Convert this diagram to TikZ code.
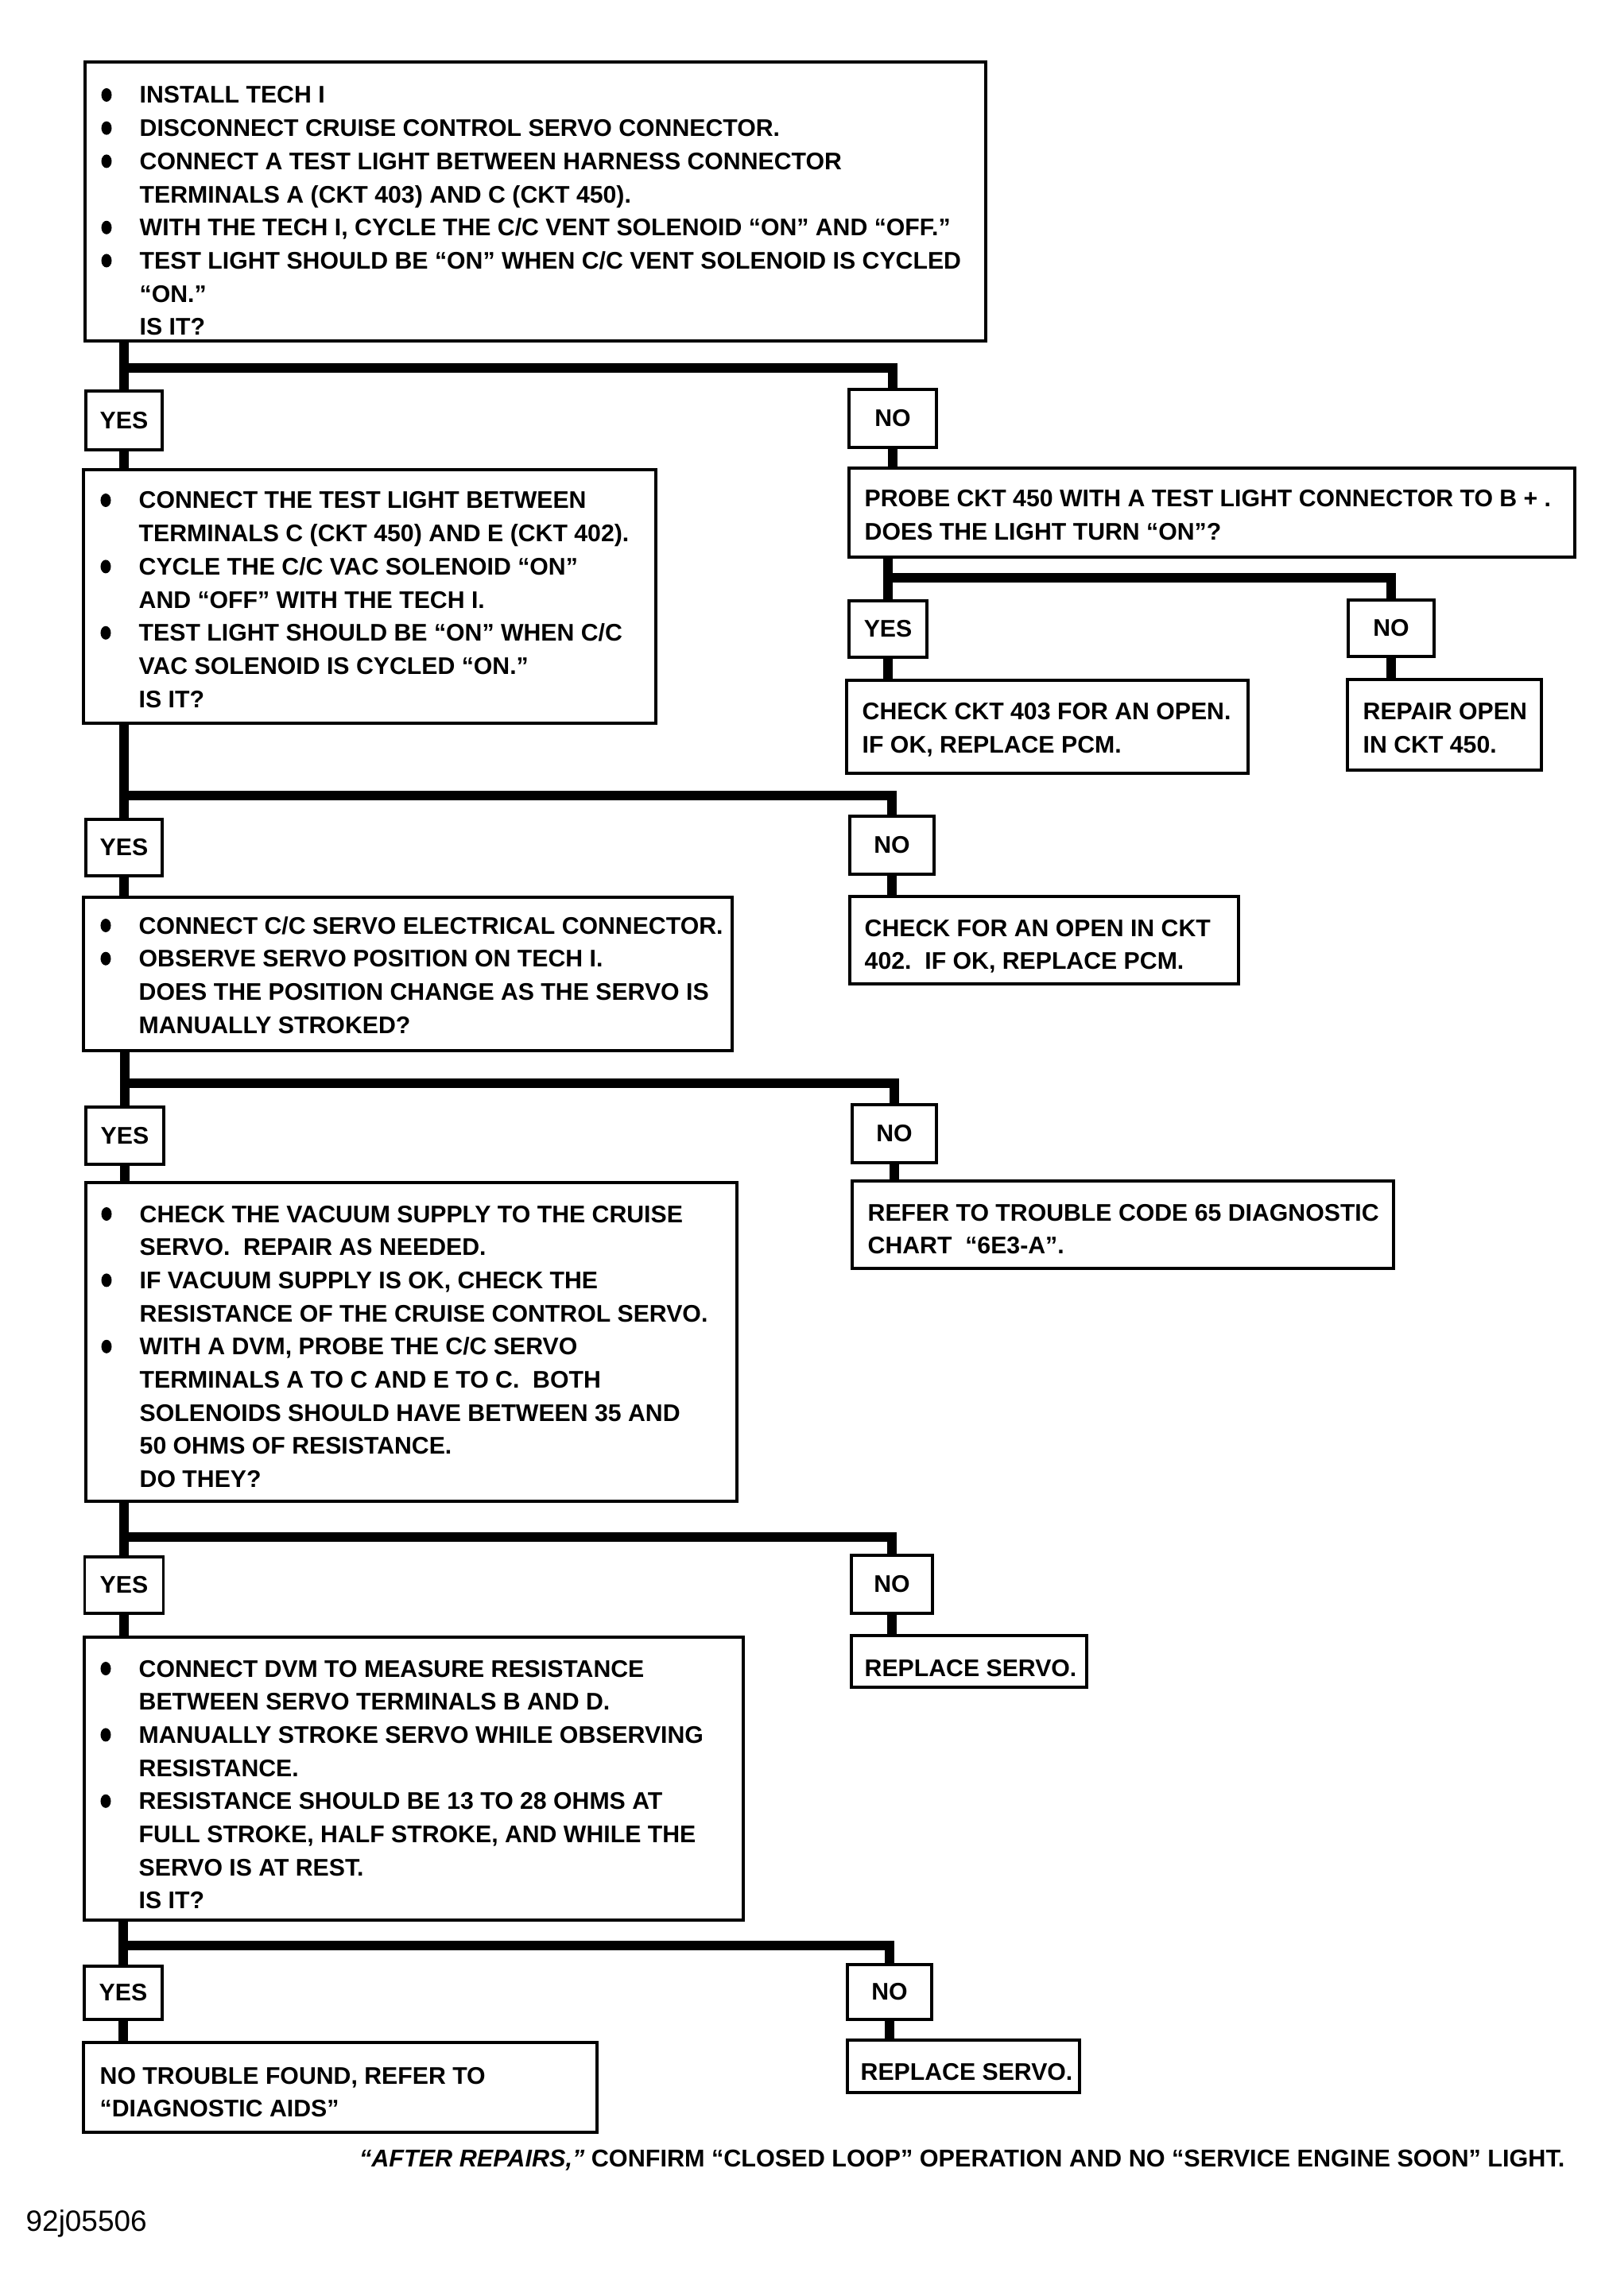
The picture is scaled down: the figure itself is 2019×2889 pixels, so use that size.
\documentclass[tikz,border=0pt]{standalone}
\usepackage{fontspec}
\setmainfont{Liberation Sans}
\usetikzlibrary{fit}
\newcommand{\fs}{\fontsize{8.6}{11.86}\selectfont\bfseries}
\newcommand{\tl}[1]{\begin{tabular}[t]{@{}l@{}}#1\end{tabular}}
\tikzset{
  box/.style={draw, line width=0.9pt, inner sep=0pt, rectangle, font=\fs},
  conn/.style={line width=3.2pt, line join=miter},
  txt/.style={anchor=base west, inner sep=0pt, font=\fs},
  bulletdot/.style={fill=black},
}
\newcommand{\bdot}[2]{\fill[bulletdot] (#1,#2) ellipse [x radius=0.065cm, y radius=0.085cm];}
\begin{document}
\begin{tikzpicture}[x=0.01cm, y=-0.01cm]
\useasboundingbox[fill=white] (0,0) rectangle (2019,2889);

% ---------- boxes ----------
\node[box, fit={(107,78) (1240,429)}] (b1) {};
\node[box, minimum width=0.96cm, minimum height=0.74cm] (yes1) at (156,529) {YES};
\node[box, minimum width=1.10cm, minimum height=0.73cm] (no1) at (1123,526.5) {NO};
\node[box, fit={(105,591) (825,910)}] (b2) {};
\node[box, fit={(1068,589) (1981,701)}] (probe) {};
\node[box, minimum width=0.98cm, minimum height=0.71cm] (yesr) at (1117,791.5) {YES};
\node[box, minimum width=1.08cm, minimum height=0.71cm] (nor) at (1750,790.5) {NO};
\node[box, fit={(1065,856) (1570,973)}] (ckt403) {};
\node[box, fit={(1695,855) (1939,969)}] (repair) {};

\node[box, minimum width=0.96cm, minimum height=0.71cm] (yes2) at (156,1066.5) {YES};
\node[box, minimum width=1.06cm, minimum height=0.73cm] (no2) at (1122,1063.5) {NO};
\node[box, fit={(105,1129) (921,1322)}] (b3) {};
\node[box, fit={(1069,1128) (1558,1238)}] (chk402) {};

\node[box, minimum width=0.98cm, minimum height=0.72cm] (yes3) at (157,1429) {YES};
\node[box, minimum width=1.06cm, minimum height=0.73cm] (no3) at (1125,1426.5) {NO};
\node[box, fit={(108,1488) (927,1889)}] (b4) {};
\node[box, fit={(1072,1486) (1753,1596)}] (refer) {};

\node[box, minimum width=0.99cm, minimum height=0.71cm] (yes4) at (156,1994.5) {YES};
\node[box, minimum width=1.02cm, minimum height=0.73cm] (no4) at (1122,1993.5) {NO};
\node[box, fit={(106,2060) (935,2416)}] (b5) {};
\node[box, fit={(1071,2058) (1367,2123)}] (rep1) {};

\node[box, minimum width=0.98cm, minimum height=0.67cm] (yes5) at (155,2507.5) {YES};
\node[box, minimum width=1.06cm, minimum height=0.69cm] (no5) at (1119,2506.5) {NO};
\node[box, fit={(105,2570) (751,2683)}] (notr) {};
\node[box, fit={(1066,2567) (1358,2633)}] (rep2) {};

% ---------- texts ----------
\node[txt] (t1) at (175,130) {\tl{%
INSTALL TECH I\\
DISCONNECT CRUISE CONTROL SERVO CONNECTOR.\\
CONNECT A TEST LIGHT BETWEEN HARNESS CONNECTOR\\
TERMINALS A (CKT 403) AND C (CKT 450).\\
WITH THE TECH I, CYCLE THE C/C VENT SOLENOID “ON” AND “OFF.”\\
TEST LIGHT SHOULD BE “ON” WHEN C/C VENT SOLENOID IS CYCLED\\
“ON.”\\
IS IT?}};
\foreach \k in {0,1,2,4,5} {\bdot{134}{130+\k*41.7-10.5}}

\node[txt] (t2) at (174,640) {\tl{%
CONNECT THE TEST LIGHT BETWEEN\\
TERMINALS C (CKT 450) AND E (CKT 402).\\
CYCLE THE C/C VAC SOLENOID “ON”\\
AND “OFF” WITH THE TECH I.\\
TEST LIGHT SHOULD BE “ON” WHEN C/C\\
VAC SOLENOID IS CYCLED “ON.”\\
IS IT?}};
\foreach \k in {0,2,4} {\bdot{133}{640+\k*41.7-10.5}}

\node[txt] (tprobe) at (1087,638) {\tl{%
PROBE CKT 450 WITH A TEST LIGHT CONNECTOR TO B + .\\
DOES THE LIGHT TURN “ON”?}};
\node[txt] (tckt403) at (1084,906) {\tl{CHECK CKT 403 FOR AN OPEN.\\ IF OK, REPLACE PCM.}};
\node[txt] (trepair) at (1714,906) {\tl{REPAIR OPEN\\ IN CKT 450.}};

\node[txt] (t3) at (174,1175) {\tl{%
CONNECT C/C SERVO ELECTRICAL CONNECTOR.\\
OBSERVE SERVO POSITION ON TECH I.\\
DOES THE POSITION CHANGE AS THE SERVO IS\\
MANUALLY STROKED?}};
\foreach \k in {0,1} {\bdot{133}{1175+\k*41.7-10.5}}
\node[txt] (tchk402) at (1087,1178) {\tl{CHECK FOR AN OPEN IN CKT\\ 402.\ \ IF OK, REPLACE PCM.}};

\node[txt] (t4) at (175,1538) {\tl{%
CHECK THE VACUUM SUPPLY TO THE CRUISE\\
SERVO.\ \ REPAIR AS NEEDED.\\
IF VACUUM SUPPLY IS OK, CHECK THE\\
RESISTANCE OF THE CRUISE CONTROL SERVO.\\
WITH A DVM, PROBE THE C/C SERVO\\
TERMINALS A TO C AND E TO C.\ \ BOTH\\
SOLENOIDS SHOULD HAVE BETWEEN 35 AND\\
50 OHMS OF RESISTANCE.\\
DO THEY?}};
\foreach \k in {0,2,4} {\bdot{134}{1538+\k*41.7-10.5}}
\node[txt] (trefer) at (1091,1536) {\tl{REFER TO TROUBLE CODE 65 DIAGNOSTIC\\ CHART\ \ “6E3-A”.}};

\node[txt] (t5) at (174,2110) {\tl{%
CONNECT DVM TO MEASURE RESISTANCE\\
BETWEEN SERVO TERMINALS B AND D.\\
MANUALLY STROKE SERVO WHILE OBSERVING\\
RESISTANCE.\\
RESISTANCE SHOULD BE 13 TO 28 OHMS AT\\
FULL STROKE, HALF STROKE, AND WHILE THE\\
SERVO IS AT REST.\\
IS IT?}};
\foreach \k in {0,2,4} {\bdot{133}{2110+\k*41.7-10.5}}
\node[txt] (trep1) at (1087,2109) {REPLACE SERVO.};

\node[txt] (tnotr) at (125,2622) {\tl{NO TROUBLE FOUND, REFER TO\\ “DIAGNOSTIC AIDS”}};
\node[txt] (trep2) at (1082,2617) {REPLACE SERVO.};

\node[anchor=base east, inner sep=0pt, font=\fontsize{8.7}{11}\selectfont\bfseries] (foot) at (1969,2726)
  {\textit{“AFTER REPAIRS,”} CONFIRM “CLOSED LOOP” OPERATION AND NO “SERVICE ENGINE SOON” LIGHT.};
\node[anchor=base west, inner sep=0pt, font=\fontsize{10.5}{12}\selectfont] (code) at (32,2807) {92j05506};

% ---------- connectors ----------
\coordinate (j1) at (156,463);
\draw[conn] (b1.south -| yes1) -- (yes1.north);
\draw[conn] (j1) -| (no1.north);
\draw[conn] (no1.south) -- (probe.north -| no1);
\draw[conn] (yes1.south) -- (b2.north -| yes1);

\coordinate (jr) at (1117,727);
\draw[conn] (probe.south -| yesr) -- (yesr.north);
\draw[conn] (jr) -| (nor.north);
\draw[conn] (yesr.south) -- (ckt403.north -| yesr);
\draw[conn] (nor.south) -- (repair.north -| nor);

\coordinate (j2) at (156,1001);
\draw[conn] (b2.south -| yes2) -- (yes2.north);
\draw[conn] (j2) -| (no2.north);
\draw[conn] (yes2.south) -- (b3.north -| yes2);
\draw[conn] (no2.south) -- (chk402.north -| no2);

\coordinate (j3) at (157,1363);
\draw[conn] (b3.south -| yes3) -- (yes3.north);
\draw[conn] (j3) -| (no3.north);
\draw[conn] (yes3.south) -- (b4.north -| yes3);
\draw[conn] (no3.south) -- (refer.north -| no3);

\coordinate (j4) at (156,1934);
\draw[conn] (b4.south -| yes4) -- (yes4.north);
\draw[conn] (j4) -| (no4.north);
\draw[conn] (yes4.south) -- (b5.north -| yes4);
\draw[conn] (no4.south) -- (rep1.north -| no4);

\coordinate (j5) at (155,2448);
\draw[conn] (b5.south -| yes5) -- (yes5.north);
\draw[conn] (j5) -| (no5.north);
\draw[conn] (yes5.south) -- (notr.north -| yes5);
\draw[conn] (no5.south) -- (rep2.north -| no5);
\end{tikzpicture}
\end{document}
